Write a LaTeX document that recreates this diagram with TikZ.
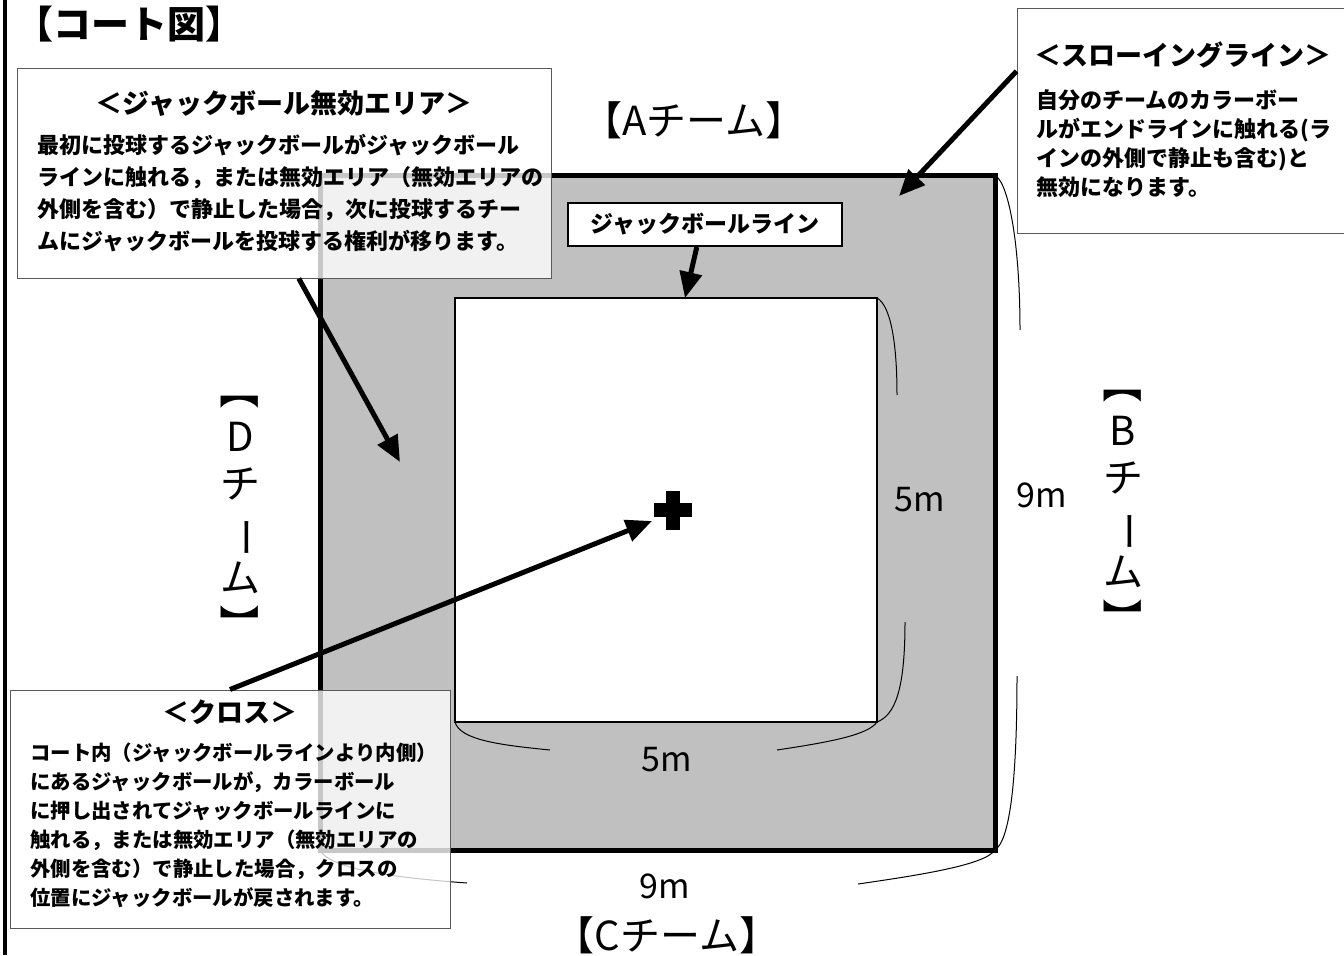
\documentclass[tikz,border=0pt]{standalone}
\usepackage{fontspec}
\setmainfont{Noto Sans CJK JP}
\usetikzlibrary{arrows.meta}
\definecolor{courtgray}{HTML}{C0C0C0}
\newcommand{\tatechar}[1]{\rotatebox[origin=c]{-90}{#1}}
\tikzset{
  notebox/.style={draw=black!65, line width=0.5pt, fill=white, fill opacity=0.78, inner sep=0pt},
  notetitle/.style={font=\bfseries\fontsize{13.5}{16}\selectfont, inner sep=0pt},
  notetext/.style={align=left, anchor=west, inner sep=0pt},
  pointer/.style={line width=2.5pt, -{Triangle[length=13pt,width=11pt]}},
  dimline/.style={line width=0.5pt},
  team/.style={font=\fontsize{20}{23.5}\selectfont, inner sep=0pt},
  measure/.style={font=\fontsize{17}{20}\selectfont, inner sep=0pt},
}

\begin{document}
\begin{tikzpicture}[x=0.5pt, y=-0.5pt]
\useasboundingbox (0,0) rectangle (1344,955);
\draw[line width=2pt] (5,0) -- (5,955);
% court
\draw[line width=2.5pt, fill=courtgray] (320,175) rectangle (995,850);
\draw[line width=1pt, fill=white] (455,298) rectangle (877,722);
\fill (654,503) rectangle (692,517);
\fill (666,491) rectangle (680,530);
% dimensions
\draw[dimline] (877,298) .. controls (890,305) and (897,340) .. (897,395);
\draw[dimline] (905,622) .. controls (905,690) and (895,715) .. (877,722);
\draw[dimline] (995,175) .. controls (1010,185) and (1020,250) .. (1020,330);
\draw[dimline] (1017,676) .. controls (1017,780) and (1010,840) .. (995,850);
\draw[dimline] (455,722) .. controls (460,740) and (500,745) .. (550,750);
\draw[dimline] (777,750) .. controls (830,742) and (868,735) .. (877,722);
\draw[dimline] (320,850) .. controls (330,870) and (400,878) .. (467,883);
\draw[dimline] (858,884) .. controls (920,875) and (985,865) .. (995,850);
\node[measure] (innerright) at (920,500) {5m};
\node[measure] (outerright) at (1042,495) {9m};
\node[measure] (innerbottom) at (667,760) {5m};
\node[measure] (outerbottom) at (665,886) {9m};
% teams
\node[font=\bfseries\fontsize{19}{22}\selectfont, inner sep=0pt] (title) at (130,24) {【コート図】};
\node[team] (teamA) at (694,120) {【Aチーム】};
\node[team] (teamC) at (667,935) {【Cチーム】};
\node[team, align=center] (teamD) at (240,507) {\tatechar{【}\\D\\チ\\\tatechar{ー}\\ム\\\tatechar{】}};
\node[team, align=center] (teamB) at (1123,501) {\tatechar{【}\\B\\チ\\\tatechar{ー}\\ム\\\tatechar{】}};
% notes
\node[draw, line width=1pt, fill=white, minimum width=137pt, minimum height=21.5pt,
  font=\bfseries\fontsize{11.5}{14}\selectfont] (jackline) at (705,224.5) {ジャックボールライン};
\node[notebox, minimum width=267pt, minimum height=105pt] (jackbox) at (284,173) {};
\node[notetitle] (jacktitle) at (284,103) {＜ジャックボール無効エリア＞};
\node[notetext, font=\bfseries\fontsize{11}{16}\selectfont] (jacktext) at (37,193)
  {最初に投球するジャックボールがジャックボール\\
   ラインに触れる，または無効エリア（無効エリアの\\
   外側を含む）で静止した場合，次に投球するチー\\
   ムにジャックボールを投球する権利が移ります。};
\node[notebox, minimum width=171.5pt, minimum height=112.5pt] (throwbox) at (1188.5,120.5) {};
\node[notetitle] (throwtitle) at (1183,55) {＜スローイングライン＞};
\node[notetext, font=\bfseries\fontsize{11}{14.5}\selectfont] (throwtext) at (1036,144)
  {自分のチームのカラーボー\\
   ルがエンドラインに触れる(ラ\\
   インの外側で静止も含む)と\\
   無効になります。};
\node[notebox, minimum width=220pt, minimum height=119pt] (crossbox) at (230,809) {};
\node[notetitle] (crosstitle) at (230,712) {＜クロス＞};
\node[notetext, font=\bfseries\fontsize{10.2}{14.5}\selectfont] (crosstext) at (30,825)
  {コート内（ジャックボールラインより内側）\\
   にあるジャックボールが，カラーボール\\
   に押し出されてジャックボールラインに\\
   触れる，または無効エリア（無効エリアの\\
   外側を含む）で静止した場合，クロスの\\
   位置にジャックボールが戻されます。};
% pointers
\coordinate (throwtip) at (899,196);
\coordinate (linetip) at (685,298);
\coordinate (areatip) at (400,462);
\coordinate (crosstip) at (652,521);
\draw[pointer] (throwbox.164) -- (throwtip);
\draw[pointer] (jackline.-110) -- (linetip);
\draw[pointer] (jackbox.-82) -- (areatip);
\draw[pointer] (crossbox.north) -- (crosstip);
\end{tikzpicture}
\end{document}
